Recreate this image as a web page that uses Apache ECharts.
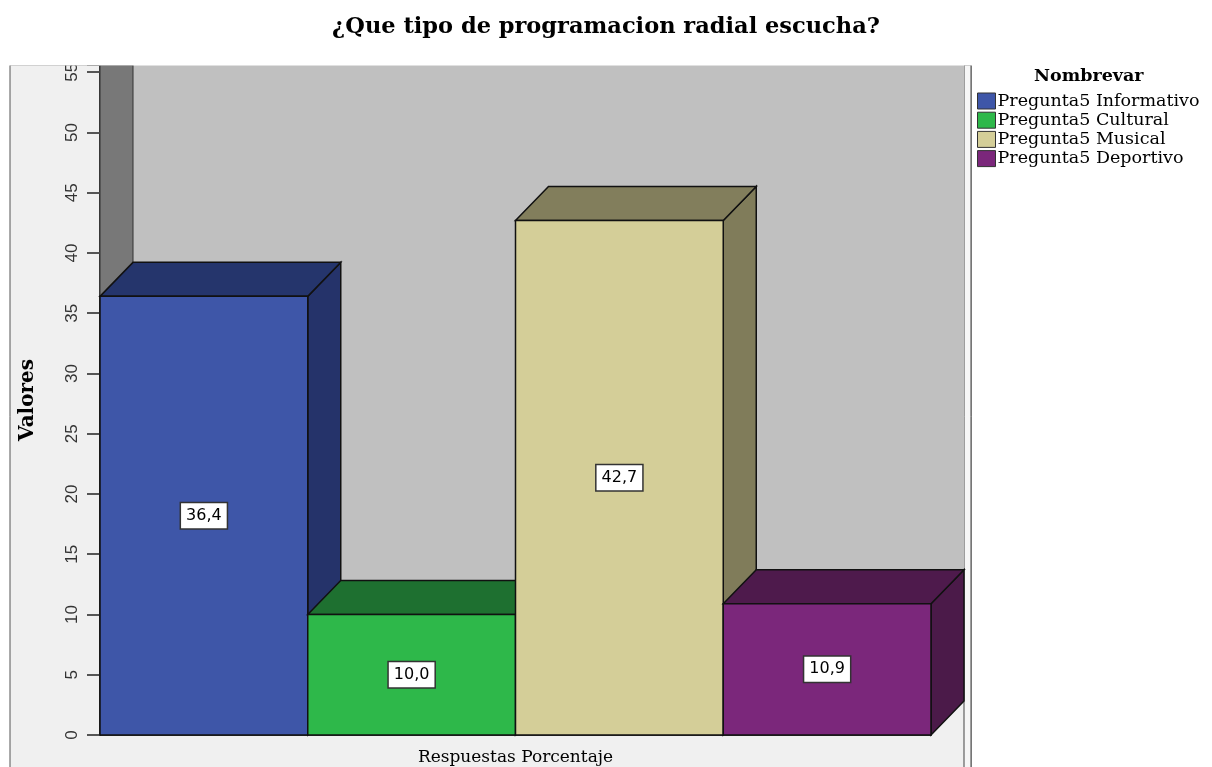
<!DOCTYPE html>
<html>
<head>
<meta charset="utf-8">
<script src="https://cdn.jsdelivr.net/npm/echarts@6/dist/echarts.min.js"></script>
<style>html,body{margin:0;padding:0;background:#fff}#main{width:1212px;height:767px}</style>
</head>
<body>
<div id="main"></div>
<script>
// datos
var categories = ['Pregunta5 Informativo', 'Pregunta5 Cultural', 'Pregunta5 Musical', 'Pregunta5 Deportivo'];
var values = [36.4, 10.0, 42.7, 10.9];
var axisCategory = ['Respuestas Porcentaje'];
var yTicks = [0, 5, 10, 15, 20, 25, 30, 35, 40, 45, 50, 55];
var yMax = 55.6;

var frontColors = ['#3e56a8', '#2eb84a', '#d4ce98', '#7b277b'];
var topColors = ['#25356c', '#1e7030', '#827e5c', '#4e1a4c'];
var sideColors = ['#25336a', '#1d6b2e', '#807c5a', '#4b1a49'];
var DX = 33, DY = 34;
var edge = '#111';

var myChart = echarts.init(document.getElementById('main'));

function renderWalls(params, api) {
    var p0 = api.coord([0, 0]);
    var p1 = api.coord([categories.length, yMax]);
    var x0 = p0[0], x1 = p1[0], yb = p0[1], yt = p1[1];
    return {
        type: 'group',
        children: [
            {type: 'polygon', shape: {points: [[x0 + DX, yt], [x1 + DX, yt], [x1 + DX, yb - DY], [x0 + DX, yb - DY]]},
                style: {fill: '#c0c0c0', stroke: null}},
            {type: 'polygon', shape: {points: [[x0, yt], [x0 + DX, yt], [x0 + DX, yb - DY], [x0, yb]]},
                style: {fill: '#787878', stroke: '#333', lineWidth: 1}}
        ]
    };
}

function renderBar(params, api) {
    var i = api.value(0), v = api.value(1);
    var p0 = api.coord([i, 0]);
    var p1 = api.coord([i + 1, v]);
    var mid = api.coord([i + 0.5, v / 2]);
    var x0 = p0[0], x1 = p1[0], yb = p0[1], yt = p1[1];
    var k = params.seriesIndex - 1;
    return {
        type: 'group',
        children: [
            {type: 'polygon', shape: {points: [[x1, yb], [x1 + DX, yb - DY], [x1 + DX, yt - DY], [x1, yt]]},
                style: {fill: sideColors[k], stroke: edge, lineWidth: 1.5}},
            {type: 'polygon', shape: {points: [[x0, yt], [x1, yt], [x1 + DX, yt - DY], [x0 + DX, yt - DY]]},
                style: {fill: topColors[k], stroke: edge, lineWidth: 1.5}},
            {type: 'rect', shape: {x: x0, y: yt, width: x1 - x0, height: yb - yt},
                style: {fill: frontColors[k], stroke: edge, lineWidth: 1.5}},
            {type: 'text', x: mid[0], y: mid[1],
                style: {
                    text: v.toFixed(1).replace('.', ','),
                    font: '16px "DejaVu Sans"',
                    fill: '#000',
                    align: 'center', verticalAlign: 'middle',
                    backgroundColor: '#fff', borderColor: '#333', borderWidth: 1.5,
                    padding: [5, 5, 4, 5]
                }}
        ]
    };
}

var series = [{
    name: 'walls',
    type: 'custom',
    xAxisIndex: 1,
    yAxisIndex: 0,
    clip: false,
    silent: true,
    renderItem: renderWalls,
    data: [[0]]
}];
for (var i = 0; i < categories.length; i++) {
    series.push({
        name: categories[i],
        type: 'custom',
        xAxisIndex: 1,
        yAxisIndex: 0,
        clip: false,
        itemStyle: {color: frontColors[i]},
        renderItem: renderBar,
        data: [[i, values[i]]]
    });
}

var option = {
    backgroundColor: '#fff',
    animation: false,
    title: [{
        text: '¿Que tipo de programacion radial escucha?',
        left: 'center',
        top: 11,
        z: 100,
        textStyle: {fontFamily: 'DejaVu Serif', fontWeight: 'bold', fontSize: 22.5, color: '#000'}
    }, {
        text: 'Nombrevar',
        left: 1034,
        top: 67,
        padding: 0,
        textStyle: {fontFamily: 'DejaVu Serif', fontWeight: 'bold', fontSize: 17.5, color: '#000'}
    }],
    legend: {
        data: categories,
        orient: 'vertical',
        left: 977,
        top: 92,
        padding: 0,
        icon: 'rect',
        itemWidth: 18,
        itemHeight: 16,
        itemGap: 1.2,
        itemStyle: {borderColor: '#333', borderWidth: 1},
        textStyle: {fontFamily: 'DejaVu Serif', fontSize: 17.5, lineHeight: 16, color: '#000', padding: [0, 0, 0, -3]}
    },
    graphic: [
        {type: 'rect', z: -10, shape: {x: 10, y: 65, width: 961, height: 712},
            style: {fill: '#f0f0f0', stroke: '#555', lineWidth: 1}},
        {type: 'rect', z: -9, shape: {x: 964, y: 65, width: 7, height: 712},
            style: {fill: '#f6f6f6', stroke: '#444', lineWidth: 1}},
        {type: 'rect', z: 50, shape: {x: 0, y: 0, width: 975, height: 65.5},
            style: {fill: '#fff'}}
    ],
    grid: {left: 100, right: 281, top: 65, bottom: 32},
    xAxis: [{
        type: 'category',
        data: axisCategory,
        axisLine: {lineStyle: {color: '#000', width: 1.5}},
        axisTick: {alignWithLabel: true, length: 10, lineStyle: {color: '#000', width: 2}},
        axisLabel: {fontFamily: 'DejaVu Serif', fontSize: 17, color: '#000', margin: 14}
    }, {
        type: 'value',
        min: 0,
        max: categories.length,
        show: false
    }],
    yAxis: {
        type: 'value',
        min: 0,
        max: yMax,
        interval: 5,
        name: 'Valores',
        nameLocation: 'middle',
        nameGap: 62,
        nameTextStyle: {fontFamily: 'DejaVu Serif', fontWeight: 'bold', fontSize: 20, color: '#000'},
        splitLine: {show: false},
        axisLine: {show: true, lineStyle: {color: '#000', width: 1.5}},
        axisTick: {show: true, length: 13, lineStyle: {color: '#555', width: 2}},
        axisLabel: {
            rotate: 90,
            margin: 19,
            fontFamily: 'Liberation Sans',
            fontSize: 17,
            color: '#333',
            formatter: function (v) {
                return yTicks.indexOf(v) >= 0 ? String(v) : '';
            }
        }
    },
    series: series
};
myChart.setOption(option);
</script>
</body>
</html>
